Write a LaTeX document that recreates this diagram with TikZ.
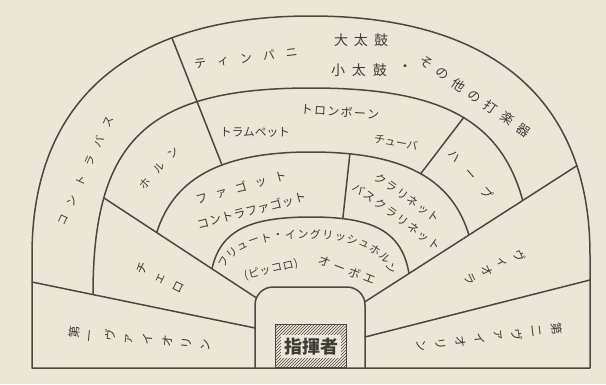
\documentclass[tikz,border=0pt]{standalone}
\usepackage{fontspec}
\usepackage{graphicx}
\newfontfamily\jp{Noto Sans CJK JP}
\usetikzlibrary{intersections,patterns,decorations.markings}
\definecolor{paper}{HTML}{EBE6D5}
\definecolor{ink}{HTML}{4A4845}
\definecolor{txt}{HTML}{3E3C39}
\makeatletter
\newdimen\jgap
\newcommand\jsp[2]{\jgap=#1\relax\jgap=0.5\jgap\jsp@loop#2\relax}
\def\jsp@loop#1{\ifx\relax#1\else\kern\jgap#1\kern\jgap\expandafter\jsp@loop\fi}
\newcommand\jvsp[2]{\jgap=#1\relax\jgap=0.5\jgap\jvsp@loop#2\relax}
\def\jvsp@loop#1{\ifx\relax#1\else\kern\jgap\rotatebox[origin=c]{90}{#1}\kern\jgap\expandafter\jvsp@loop\fi}
\makeatother
\begin{document}
\begin{tikzpicture}[x=1pt,y=-1pt,line width=1.5pt,
  lbl/.style={text=txt,inner sep=0pt,font={\jp\fontsize{#1}{#1}\selectfont}},
  wall/.style={draw=ink,line cap=round,line join=round}]
\fill[paper] (0,0) rectangle (606,384);
\useasboundingbox (0,0) rectangle (606,384);

% ---- construction paths
\path[name path=outer] (32,368) -- (32,255) .. controls (32,99.65) and (129.65,16) .. (311,16)
   .. controls (492.35,16) and (590,99.65) .. (590,255) -- (590,368) -- cycle;
\path[name path=arcB] (93,400) -- (93,294.5) .. controls (93,139.6) and (147.5,88) .. (311,88)
   .. controls (477.5,88) and (533,139.6) .. (533,294.5) -- (533,400);
\path[name path=arcC] (149,400) -- (149,290) .. controls (149,193.4) and (197.6,152) .. (311,152)
   .. controls (426.5,152) and (476,193.4) .. (476,290) -- (476,400);
\path[name path=arcD] (209,400) -- (209,300) .. controls (209,237.75) and (234.5,217) .. (311,217)
   .. controls (386,217) and (411,237.75) .. (411,300) -- (411,400);
\path[name path=box,rounded corners=18] (255,400) -- (255,287) -- (365,287) -- (365,400);
\path[name path=Lr1] (166.1,23) -- (227.9,180);
\path[name path=Lc] (70,175.7) -- (290,319.9);
\path[name path=Lv] (600,150.9) -- (340,317.8);
\path[name path=Lr2] (351.4,140) -- (341.6,230);
\path[name path=Lr3] (472.5,106) -- (412.8,184);

\path[name intersections={of=outer and Lr1,by=r1a}];
\path[name intersections={of=arcC and Lr1,by=r1b}];
\path[name intersections={of=arcB and Lc,by=ca}];
\path[name intersections={of=box and Lc,by=cb}];
\path[name intersections={of=outer and Lv,by=va}];
\path[name intersections={of=box and Lv,by=vb}];
\path[name intersections={of=arcC and Lr2,by=r2a}];
\path[name intersections={of=arcD and Lr2,by=r2b}];
\path[name intersections={of=arcB and Lr3,by=r3a}];
\path[name intersections={of=arcC and Lr3,by=r3b}];
\coordinate (fa) at (32,282);
\coordinate (fb) at (255,328);
\coordinate (sa) at (590,280);
\coordinate (sb) at (365,337);

% ---- arcs, clipped at the lines they end on
\begin{scope}
\clip (0,0) -- (620,0) -- (620,138.04) -- (307.3,338.8) -- (0,275.4) -- cycle;
\draw[wall] (93,400) -- (93,294.5) .. controls (93,139.6) and (147.5,88) .. (311,88)
   .. controls (477.5,88) and (533,139.6) .. (533,294.5) -- (533,400);
\end{scope}
\begin{scope}
\clip (0,0) -- (620,0) -- (620,138.04) -- (313.06,335.1) -- (0,129.85) -- cycle;
\draw[wall] (149,400) -- (149,290) .. controls (149,193.4) and (197.6,152) .. (311,152)
   .. controls (426.5,152) and (476,193.4) .. (476,290) -- (476,400);
\draw[wall] (209,400) -- (209,300) .. controls (209,237.75) and (234.5,217) .. (311,217)
   .. controls (386,217) and (411,237.75) .. (411,300) -- (411,400);
\end{scope}

% ---- dividing lines
\draw[wall] (r1a) -- (r1b);
\draw[wall] (ca) -- (cb);
\draw[wall] (va) -- (vb);
\draw[wall] (r2a) -- (r2b);
\draw[wall] (r3a) -- (r3b);
\draw[wall] (fa) -- (fb);
\draw[wall] (sa) -- (sb);

% ---- outline and conductor's place
\draw[wall] (32,368) -- (32,255) .. controls (32,99.65) and (129.65,16) .. (311,16)
   .. controls (492.35,16) and (590,99.65) .. (590,255) -- (590,368) -- cycle;
\draw[wall,rounded corners=18] (255,368) -- (255,287) -- (365,287) -- (365,368);
\fill[pattern=north east lines,pattern color=ink] (275,324) rectangle (346,367);
\draw[draw=ink,line width=1pt] (275,324) rectangle (346,367);
\node[lbl=18,fill=paper,minimum width=60pt,minimum height=23pt] (cond) at (311,346.5) {\bfseries 指揮者};

% ---- labels
\node[lbl=12,rotate=6.8] (tp) at (246,58) {\jsp{11pt}{ティンパニ}};
\node[lbl=14] (od) at (361,40) {\jsp{6pt}{大太鼓}};
\node[lbl=14] (kd) at (359,70) {\jsp{7pt}{小太鼓}};
\node[lbl=14] (dt) at (405,68) {・};
\node[lbl=13,rotate=-35] (perc) at (475,96) {\jsp{6.7pt}{その他の打楽器}};
\node[lbl=11,rotate=65.3] (cbs) at (85.5,171) {\jsp{10.6pt}{コントラバス}};
\node[lbl=11,rotate=48] (hr) at (159,168) {\jsp{10pt}{ホルン}};
\node[lbl=11.7] (tr) at (255,132) {トラムペット};
\node[lbl=12,rotate=-4] (tb) at (340,112) {\jsp{1.3pt}{トロンボーン}};
\node[lbl=11,rotate=-10] (tu) at (396,142) {チューバ};
\node[lbl=12,rotate=-49] (hp) at (471,174) {\jsp{12.5pt}{ハープ}};
\node[lbl=12,rotate=15.7] (fg) at (241,187) {\jsp{8.5pt}{ファゴット}};
\node[lbl=12,rotate=14.5] (cf) at (251.5,210.5) {\jsp{0.5pt}{コントラファゴット}};
\node[lbl=11.5,rotate=-35.6] (cl) at (407.5,198) {\jsp{1.5pt}{クラリネット}};
\node[lbl=11.5,rotate=-35.9] (bcl) at (397,216.5) {\jsp{1.9pt}{バスクラリネット}};
\node[lbl=11,rotate=13] (pc) at (271,269.5) {\jsp{0.7pt}{(ピッコロ)}};
\node[lbl=12,rotate=-21] (ob) at (347,270) {\jsp{4pt}{オーボエ}};
\node[lbl=12,rotate=-26.6] (vc) at (160,278) {\jvsp{12.6pt}{チェロ}};
\node[lbl=12,rotate=205.7] (va1) at (495,266.5) {\jvsp{8.7pt}{ヴィオラ}};
\node[lbl=12,rotate=-5.5] (v1) at (139.5,339.5) {\jvsp{10pt}{第一ヴァイオリン}};
\node[lbl=12,rotate=187.4] (v2) at (489.5,337) {\jvsp{10pt}{第二ヴァイオリン}};

\path[postaction={decorate},decoration={markings,
  mark=at position 0.030 with {\node[lbl=11,transform shape] (f1) {フ};},
  mark=at position 0.093 with {\node[lbl=11,transform shape] (f2) {リ};},
  mark=at position 0.155 with {\node[lbl=11,transform shape] (f3) {ュ};},
  mark=at position 0.218 with {\node[lbl=11,transform shape] (f4) {ー};},
  mark=at position 0.281 with {\node[lbl=11,transform shape] (f5) {ト};},
  mark=at position 0.343 with {\node[lbl=11,transform shape] (f6) {・};},
  mark=at position 0.406 with {\node[lbl=11,transform shape] (f7) {イ};},
  mark=at position 0.469 with {\node[lbl=11,transform shape] (f8) {ン};},
  mark=at position 0.531 with {\node[lbl=11,transform shape] (f9) {グ};},
  mark=at position 0.594 with {\node[lbl=11,transform shape] (f10) {リ};},
  mark=at position 0.657 with {\node[lbl=11,transform shape] (f11) {ッ};},
  mark=at position 0.719 with {\node[lbl=11,transform shape] (f12) {シ};},
  mark=at position 0.782 with {\node[lbl=11,transform shape] (f13) {ュ};},
  mark=at position 0.845 with {\node[lbl=11,transform shape] (f14) {ホ};},
  mark=at position 0.907 with {\node[lbl=11,transform shape] (f15) {ル};},
  mark=at position 0.970 with {\node[lbl=11,transform shape] (f16) {ン};}}]
  (221.3,267.7) .. controls (235,222) and (385,222) .. (392.9,273.9);
\end{tikzpicture}
\end{document}
